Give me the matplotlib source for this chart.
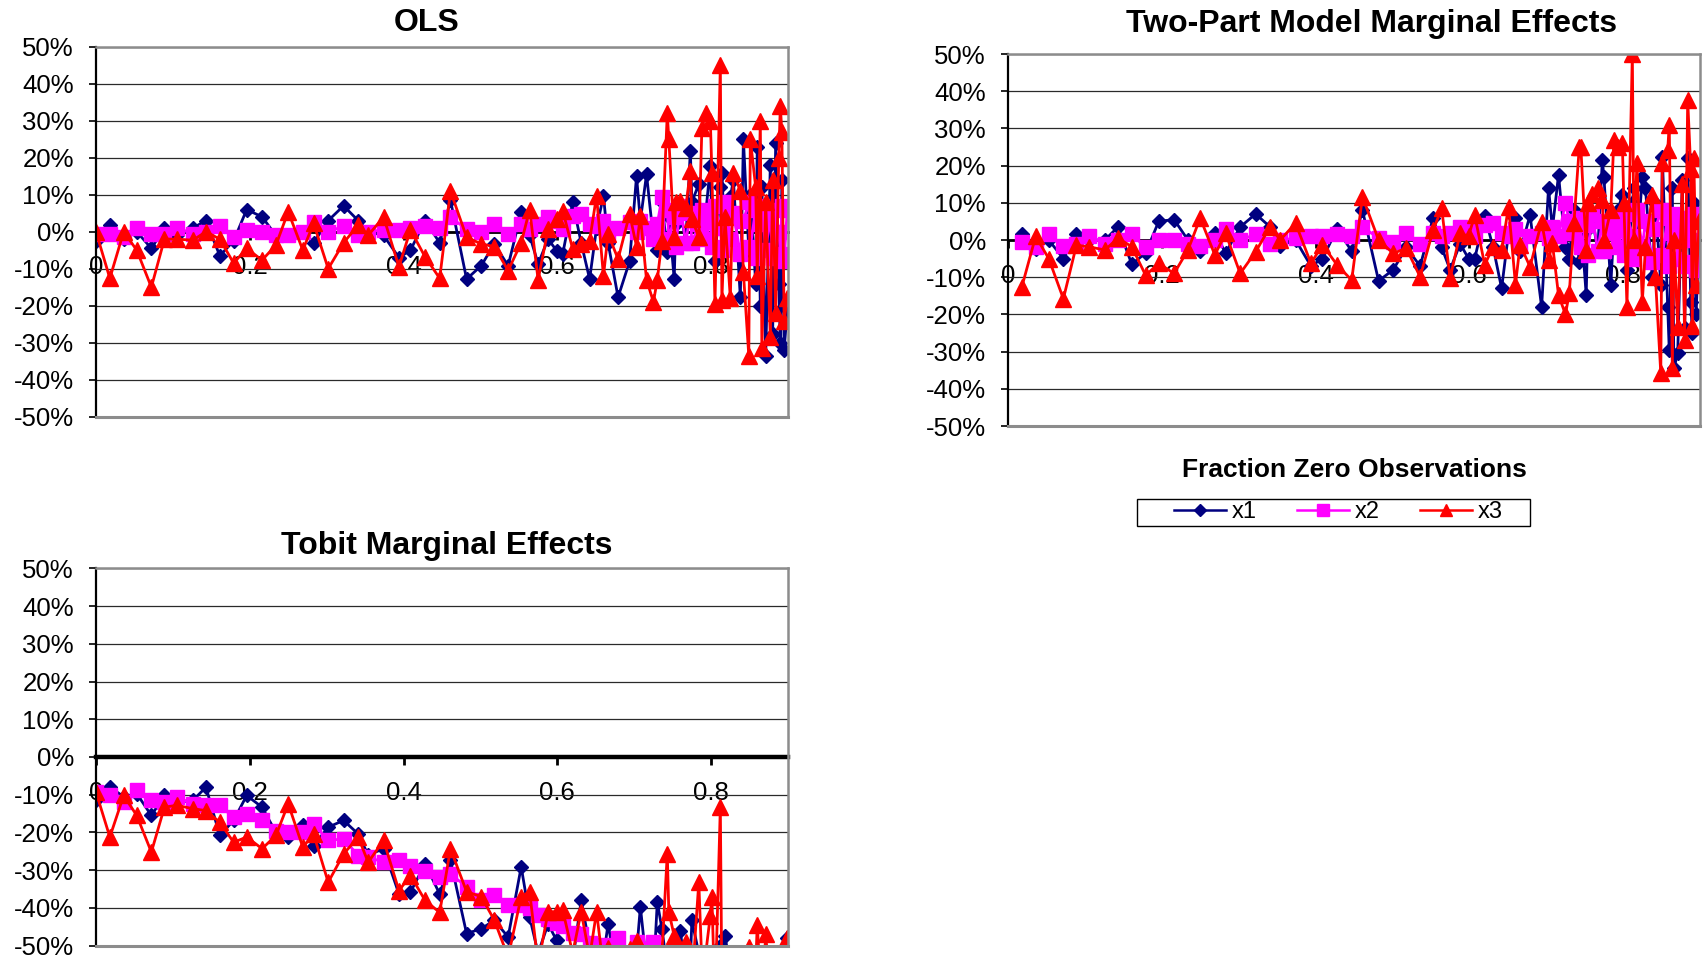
import matplotlib
matplotlib.use("Agg")
import matplotlib.pyplot as plt
from matplotlib.lines import Line2D
from matplotlib.patches import Rectangle
from matplotlib.ticker import FixedLocator, FuncFormatter, MultipleLocator

plt.rcParams['font.family'] = ['Liberation Sans', 'DejaVu Sans']

nan = float('nan')

# fraction of zero observations in each simulated data set
frac_zero = [0.000, 0.018, 0.036, 0.053, 0.072, 0.089, 0.105, 0.126, 0.143, 0.161,
             0.179, 0.196, 0.216, 0.234, 0.250, 0.269, 0.283, 0.302, 0.322, 0.341,
             0.354, 0.374, 0.394, 0.409, 0.428, 0.447, 0.461, 0.482, 0.501, 0.518,
             0.536, 0.553, 0.564, 0.575, 0.588, 0.599, 0.607, 0.620, 0.631, 0.642,
             0.651, 0.660, 0.666, 0.679, 0.694, 0.703, 0.708, 0.716, 0.725, 0.730,
             0.736, 0.743, 0.745, 0.752, 0.754, 0.760, 0.767, 0.773, 0.775, 0.784,
             0.788, 0.793, 0.799, 0.801, 0.805, 0.812, 0.814, 0.818, 0.825, 0.829,
             0.838, 0.842, 0.849, 0.851, 0.858, 0.860, 0.864, 0.866, 0.871, 0.877,
             0.880, 0.884, 0.888, 0.890, 0.892, 0.895, 0.899]

# OLS (percent)
ols_x1 = [-2.5, 1.8, -2, 0, -4.5, 1, -1, 1, 3, -6.5,
          -2.5, 6, 4, -1, -1, 0, -3, 3, 7, 3,
          0, -1, -7, -5, 3, -3, 8.5, -12.8, -9.2, -3.3,
          -9.2, 5.2, -1, -8.7, -2, -5.1, -6, 7.9, -3, -12.8,
          1, 9.7, -3, -17.7, -8, 15, 3, 15.5, -2, -5,
          8, -5.6, 4, -12.8, 2, 6, -3, 21.9, 8, 12.9,
          -2, 5, 17.8, 3, -8, 12, 16, -3, 9.3, 14,
          -17.7, 25, -5, 10, -14, 22.8, -20, 12, -33.5, 18,
          -27.7, 24, -14, -30, 14, -32, -21]
ols_x2 = [-0.5, -0.5, -1.5, 1, -0.5, -0.5, 1, -0.5, 0, 1.5,
          -1.5, 0.5, 0, -1, -1, 0, 2.5, 0, 1.5, -1,
          0, 0.5, 0.5, 1, 1.5, 1, 3.9, 0.7, -0.2, 2,
          -0.6, 2, 0.7, 2, 3.9, 3, 0.7, 4.3, 4.8, 2,
          1.5, 3, -1, 1, 2.5, 0, 3, 1, -2, 2,
          9.3, 6, -2, 4, -4, 7, -3, 5, -3, 2,
          6, -2, 3, -4, 7, 1, -5, 8, -2, 5,
          -6, 3, 8, -4, 6, -7, 2, 7, -5, 4,
          -7, 6, 0, -6, 7, -8, 6]
ols_x3 = [0, -12.6, 0, -5, -15, -2, -2, -2.3, 0, -2,
          -8.5, -4.5, -7.7, -3.6, 5.4, -5, 2.3, -10, -3, 1.8,
          -1, 4, -9.5, 0.5, -6.8, -12.6, 11, -1.5, -3.3, -4,
          -10.5, -3, 6, -13, 0.7, 3.4, 5.7, -4.7, -3.3, -2.4,
          9.7, -12, -0.6, -7.4, 4.8, -4, 4.3, -13, -19, -13,
          -2.5, 32, 25, -1.5, 8, 8.4, 6.5, 16.5, 3.5, -1.5,
          28, 32, 30, 16, -19.5, 45, -18.5, 4, -18, 16,
          11, -11, -33.5, 25, 12, -12, 30, -31.5, 8, -28.5,
          14, -22, 20, 34, 27, -24, -18]

# Two-part model marginal effects (percent)
tp_x1 = [nan, 1.5, -2.5, 0, -5, 1.5, 0, 0, 3.5, -6.5,
         -3.5, 5, 5.5, 0, -3, 2, -3.5, 3.5, 7, 3.5,
         -1.5, 0, -7, -5, 3, -3, 8, -11, -8, -2,
         -7, 6, -2, -8, -1, -5, -5, 6.5, -2, -13,
         2, 6, -3, 6.7, -18, 14, 3, 17.5, -2, -5,
         8, -6, 5, -14.8, 3, 6, -3, 21.5, 17, -12,
         3, 8, 12, 4, -8, 10, 14, -3, 17, 14,
         -10, 10, -12, 22.4, -18, -29.6, 14, -34.5, -30.5, 16,
         -23.7, 22, -16.6, -25, 10, -20, 5]
tp_x2 = [nan, -0.5, -2, 1.5, -1.5, -1, 1, -1, 0, 1.5,
         -2, 0, 0, -1, -1.5, 0, 3, 0, 1.5, -1,
         0, 0.5, 1, 1, 1.5, 1, 3.5, 0.5, -0.5, 2,
         -1, 2, 1, 2, 3.5, 3, 1, 4, 4.5, 2,
         1, 3, -1.5, 1, 2, 0.5, 3.5, 1, 10, 5,
         2, 6, -2, 4, -4, 7, -3, 5, -3, 2,
         6, -2, 3, -4, 7, 1, -5, 8, -2, 5,
         -6, 3, 8, -4, 6, -7, 2, 7, -5, 4,
         -7, 6, 0, -6, 7, -8, 6]
tp_x3 = [nan, -12.6, 1, -5, -15.8, -1.4, -1.8, -2.7, 0.5, -1.8,
         -9.5, -6.3, -9, -2.7, 5.9, -4, 1.8, -9, -3.2, 3.6,
         0, 4.5, -6.3, -1.3, -6.7, -10.8, 11.6, 0, -3.6, -2.2,
         -9.9, 2.7, 8.5, -10.3, 1.8, 1, 6.7, -6.7, -1.8, -2.7,
         9, -12, -1.3, -7.2, 4.9, -5.4, -0.9, -14.8, -20, -14.3,
         4.5, 25, 25, -2.7, 9.9, 12.5, 13.9, 10.7, 0, 8,
         26.9, 25, 26, 10, -17.9, 50, 0, 20.6, -16.6, -2,
         12, -10, -35.8, 20.6, 24.2, 31, -34.5, 0, -23.3, 15,
         -27, 37.6, 19, -23, 22, -12, 5]

# Tobit marginal effects (percent), many fall below the -50% floor
tob_x1 = [-11.5, -8, -10.5, -9.7, -15.5, -10.2, -12, -11.5, -8, -20.8,
          -16.8, -10.2, -13.3, -20, -21.2, -18.1, -23.5, -18.6, -16.8, -20.4,
          -26, -24.3, -36.3, -35.8, -28.3, -36.3, -27.4, -46.8, -45.5, -43.3,
          -47.7, -29.1, -42.4, -52, -44.2, -48.6, -52, -54, -38, -50,
          -55, -53, -44.2, -60, -55, -52, -39.7, -55, -58, -38.4,
          -45.5, -56, -60, -52, -55, -46, -58, -54, -43.3, -52,
          -60, -54, -56, -62, -58, -50, -60, -47.3, -56, -62,
          -65, -58, -60, -66, -62, -70, -58, -64, -60, -75,
          -62, -68, -58, -72, -60, -66, -48]
tob_x2 = [-9.3, -10, -12, -8.8, -11.5, -12, -10.6, -12.4, -12.8, -12.8,
          -16, -15, -16.8, -19.5, -19.9, -19.9, -17.7, -22.1, -21.7, -26.1,
          -26.5, -27.9, -27.4, -28.8, -30.1, -31.9, -31, -34.4, -37.9, -36.6,
          -39.1, -39.1, -40, -41.8, -43, -44, -44.9, -46.6, -47, -49.3,
          -50.5, -49.8, -51, -48, -52, -48.9, -53, -51, -48.9, -52,
          -54, -55, -53, -57, -54, -58, -56, -60, -57, -59,
          -61, -58, -62, -60, -63, -61, -64, -62, -65, -63,
          -66, -64, -67, -65, -68, -66, -69, -67, -70, -68,
          -71, -69, -72, -70, -73, -71, -74]
tob_x3 = [-9.3, -21.2, -10.2, -15.5, -25.2, -13.3, -12.8, -13.7, -14.2, -17.3,
          -22.6, -21.2, -24.3, -20.8, -12.4, -23.9, -20.4, -33.2, -25.7, -21.2,
          -27.9, -22.1, -35.4, -31.4, -38, -41.2, -24.3, -35.7, -37, -43.2,
          -53, -37, -35.7, -55, -41, -41, -40.6, -52, -41, -53,
          -41, -56, -50.5, -54, -51, -48.7, -52, -57, -62, -57,
          -52, -25.6, -41, -47.4, -52, -55, -49, -58, -60, -33.2,
          -55, -52, -42, -37, -65, -13.2, -62, -52, -60, -56,
          -58, -62, -50.3, -60, -55, -44.5, -58, -66, -47, -62,
          -60, -70, -56, -52, -65, -60, -48]

series_names = ['x1', 'x2', 'x3']
colors = ['#000080', '#FF00FF', '#FF0000']
markers = ['D', 's', '^']
msizes = [7.5, 10.5, 11]

W, H = 1705, 964
fig = plt.figure(figsize=(W / 100, H / 100), dpi=100)


def px_axes(left, top, right, bottom):
    return fig.add_axes([left / W, 1 - bottom / H, (right - left) / W, (bottom - top) / H])


def style(ax, zero_lw):
    ax.set_xlim(0, 0.9)
    ax.set_ylim(-50, 50)
    ax.yaxis.set_major_locator(MultipleLocator(10))
    ax.yaxis.set_major_formatter(FuncFormatter(lambda v, p: f"{int(round(v))}%"))
    ax.xaxis.set_major_locator(FixedLocator([0, 0.2, 0.4, 0.6, 0.8]))
    ax.xaxis.set_major_formatter(FuncFormatter(lambda v, p: "0" if abs(v) < 1e-9 else f"{v:.1f}"))
    ax.grid(axis='y', color='#2a2a2a', lw=0.9)
    ax.set_axisbelow('line')
    for s in ('top', 'right'):
        ax.spines[s].set_color('#8c8c8c')
        ax.spines[s].set_linewidth(1.8)
    ax.spines['left'].set_color('black')
    ax.spines['left'].set_linewidth(1.6)
    ax.spines['bottom'].set_position(('data', 0))
    ax.spines['bottom'].set_color('black')
    ax.spines['bottom'].set_linewidth(zero_lw)
    ax.spines['bottom'].set_zorder(1.8)
    ax.axhline(-50, color='#8c8c8c', lw=2.2, clip_on=False, zorder=2.6)
    ax.tick_params(axis='y', length=5, width=1.2, pad=11, labelsize=18.5)
    ax.tick_params(axis='x', length=6, width=2, pad=11, labelsize=18.5, direction='out')


def draw(ax, ys):
    for y, c, m, s in zip(ys, colors, markers, msizes):
        ax.plot(frac_zero, y, color=c, marker=m, ms=s, mec=c, lw=2.0, zorder=2)


ax_ols = px_axes(96, 46.7, 788, 416.7)
style(ax_ols, 2.0)
draw(ax_ols, [ols_x1, ols_x2, ols_x3])

ax_tp = px_axes(1008, 54, 1700, 426)
style(ax_tp, 2.0)
draw(ax_tp, [tp_x1, tp_x2, tp_x3])

ax_tob = px_axes(96, 568.3, 788, 945.7)
style(ax_tob, 3.2)
draw(ax_tob, [tob_x1, tob_x2, tob_x3])

fig.text(427 / W, 1 - 23 / H, "OLS", ha='center', va='center', fontsize=23, fontweight='bold')
fig.text(1372 / W, 1 - 24 / H, "Two-Part Model Marginal Effects", ha='center', va='center',
         fontsize=23, fontweight='bold')
fig.text(447 / W, 1 - 546 / H, "Tobit Marginal Effects", ha='center', va='center',
         fontsize=23, fontweight='bold')
fig.text(1354 / W, 1 - 470 / H, "Fraction Zero Observations", ha='center', va='center',
         fontsize=19, fontweight='bold')

# legend box
fig.add_artist(Rectangle((1137 / W, 1 - 526 / H), 393 / W, 27 / H, transform=fig.transFigure,
                         fill=False, edgecolor='black', lw=1.0))
handles = [Line2D([], [], color=c, marker=m, ms=s * 0.85, mec=c, lw=1.8)
           for c, m, s in zip(colors, markers, msizes)]
fig.legend(handles, series_names, loc='center', bbox_to_anchor=(1338 / W, 1 - 512.5 / H),
           ncol=3, frameon=False, fontsize=17, handlelength=2.2, handletextpad=0.25,
           columnspacing=1.7, borderpad=0, borderaxespad=0)

fig.savefig('out.png', dpi=100)
